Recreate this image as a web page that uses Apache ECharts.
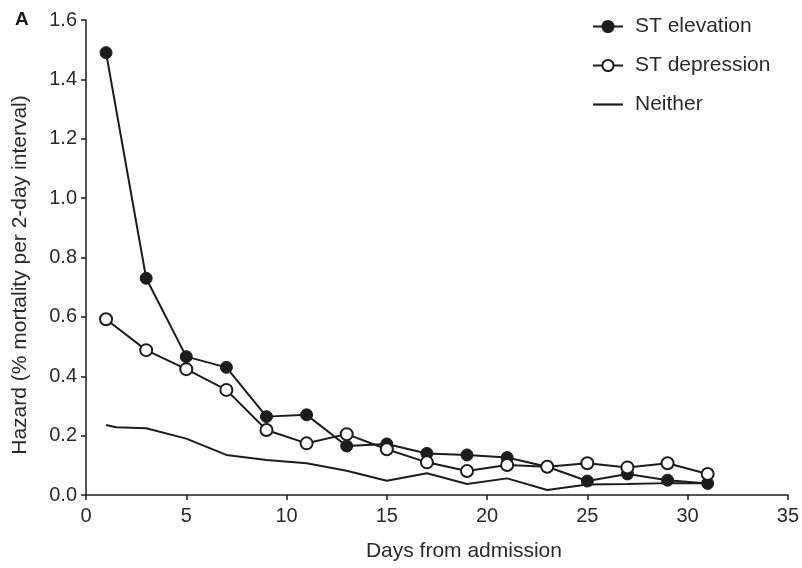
<!DOCTYPE html>
<html><head><meta charset="utf-8">
<script src="https://cdn.jsdelivr.net/npm/echarts@6/dist/echarts.min.js"></script>
<style>html,body{margin:0;padding:0;background:#fff}#c{width:802px;height:568px}</style>
</head><body><div id="c"></div>
<script>
const days = [1,3,5,7,9,11,13,15,17,19,21,23,25,27,29,31];
const stElevation = [1.49,0.73,0.466,0.43,0.264,0.27,0.165,0.172,0.14,0.135,0.126,0.095,0.047,0.071,0.05,0.039];
const stDepression = [0.592,0.488,0.424,0.354,0.219,0.174,0.205,0.154,0.11,0.081,0.101,0.095,0.107,0.093,0.107,0.071];
const neitherDays = [1,1.5,3,5,7,9,11,13,15,17,19,21,23,25,27,29,31];
const neither = [0.236,0.228,0.225,0.19,0.135,0.118,0.107,0.082,0.048,0.073,0.037,0.056,0.017,0.035,0.037,0.04,0.04];
const xTicks = [0,5,10,15,20,25,30,35];
const yTicks = [0,0.2,0.4,0.6,0.8,1.0,1.2,1.4,1.6];

const pair = (xs, ys) => xs.map((x, i) => [x, ys[i]]);
const ink = '#1c1c1c';
const txt = '#2a2a2a';
const font = 'Liberation Sans, Arial, Helvetica, sans-serif';

const chart = echarts.init(document.getElementById('c'));
chart.setOption({
  animation: false,
  backgroundColor: '#fff',
  textStyle: { fontFamily: font },
  title: { text: 'A', left: 10, top: 5, textStyle: { fontSize: 19, fontWeight: 'bold', color: ink, fontFamily: font } },
  grid: { left: 86, right: 6, top: 20, bottom: 73, containLabel: false },
  legend: {
    orient: 'vertical', left: 587, top: 11, itemWidth: 30, itemHeight: 14, itemGap: 18,
    textStyle: { fontSize: 21, color: txt, fontFamily: font, padding: [0, 0, 0, 7] },
    data: [
      { name: 'ST elevation' },
      { name: 'ST depression' },
      { name: 'Neither', icon: 'path://M0,0H30V2.2H0Z' }
    ]
  },
  xAxis: {
    type: 'value', min: 0, max: 35, interval: 5,
    name: 'Days from admission', nameLocation: 'middle', nameGap: 46,
    nameTextStyle: { fontSize: 21, color: txt, fontFamily: font, padding: [0, 0, 0, 54] },
    axisLine: { show: true, lineStyle: { color: ink, width: 1.5 } },
    axisTick: { show: true, length: 5, inside: false, lineStyle: { color: ink, width: 1.5 } },
    axisLabel: { fontSize: 20, color: txt, margin: 11, fontFamily: font, formatter: v => xTicks.includes(v) ? String(v) : '' },
    splitLine: { show: false }
  },
  yAxis: {
    type: 'value', min: 0, max: 1.6, interval: 0.2,
    name: 'Hazard (% mortality per 2-day interval)', nameLocation: 'middle', nameGap: 55,
    nameTextStyle: { fontSize: 21, color: txt, fontFamily: font, padding: [0, 35, 0, 0] },
    axisLine: { show: true, lineStyle: { color: ink, width: 1.5 } },
    axisTick: { show: true, length: 5, inside: false, lineStyle: { color: ink, width: 1.5 } },
    axisLabel: { fontSize: 20, color: txt, margin: 9, fontFamily: font, formatter: v => { const t = yTicks.find(k => Math.abs(k - v) < 1e-6); return t === undefined ? '' : t.toFixed(1); } },
    splitLine: { show: false }
  },
  series: [
    { name: 'ST elevation', type: 'line', data: pair(days, stElevation), symbol: 'circle', symbolSize: 12,
      lineStyle: { color: ink, width: 2 }, itemStyle: { color: ink, borderColor: ink, borderWidth: 1 }, z: 3 },
    { name: 'ST depression', type: 'line', data: pair(days, stDepression), symbol: 'circle', symbolSize: 12,
      lineStyle: { color: ink, width: 2 }, itemStyle: { color: '#fff', borderColor: ink, borderWidth: 2 }, z: 4 },
    { name: 'Neither', type: 'line', data: pair(neitherDays, neither), symbol: 'none', showSymbol: false,
      lineStyle: { color: ink, width: 2 }, itemStyle: { color: ink }, z: 2 }
  ]
});
</script></body></html>
